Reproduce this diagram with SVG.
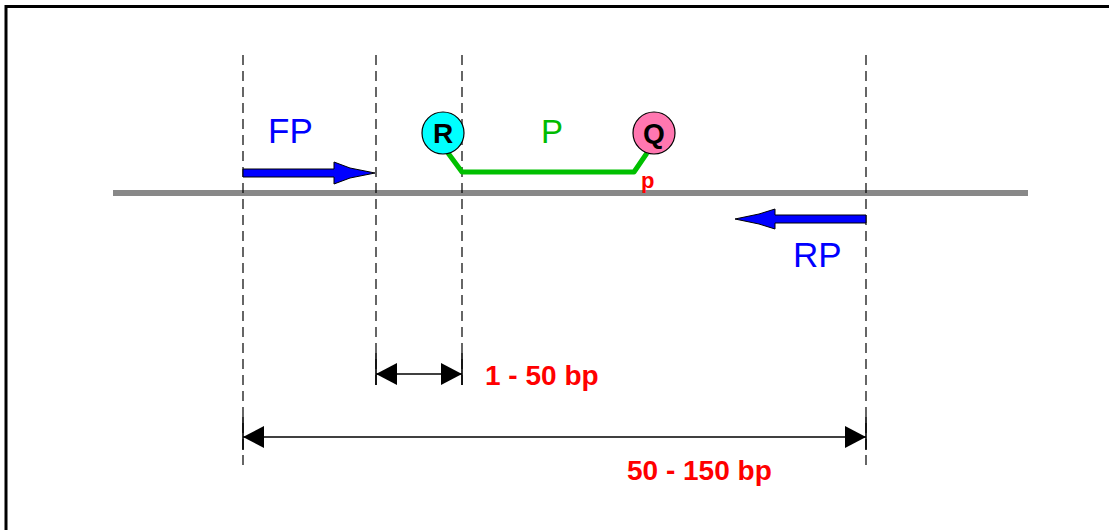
<svg xmlns="http://www.w3.org/2000/svg" width="1109" height="530" viewBox="0 0 1109 530">
<style>
.guide{stroke:#000;stroke-width:1.2;stroke-dasharray:10,6;fill:none}
.dim{stroke:#000;stroke-width:1.6;fill:none}
.tick{stroke:#000;stroke-width:1.6}
.lbl{font-family:"Liberation Sans",Arial,sans-serif}
.red{fill:#FF0000;font-weight:bold;font-size:28px}
.blue{fill:#0000FF;font-size:35px}
.node{font-size:28px;font-weight:bold;fill:#000}
</style>
<defs>
<marker id="ah" markerWidth="21" markerHeight="22" refX="21" refY="11" orient="auto-start-reverse" markerUnits="userSpaceOnUse">
<path d="M0,0 L21,11 L0,22 Z" fill="#000"/>
</marker>
</defs>
<rect x="0" y="0" width="1109" height="530" fill="#fff"/>
<path d="M6,530 V6.5 H1109" fill="none" stroke="#000" stroke-width="3"/>
<g id="dna"><rect x="113" y="190" width="915" height="6" fill="#888"/></g>
<g id="guides">
<line class="guide" x1="243" y1="55" x2="243" y2="466"/>
<line class="guide" x1="376" y1="55" x2="376" y2="385"/>
<line class="guide" x1="462" y1="55" x2="462" y2="385"/>
<line class="guide" x1="866" y1="55" x2="866" y2="466"/>
</g>
<g id="FP">
<path d="M243,169 H334 V162 L350,168 L375,173 L350,178 L334,184 V177 H243 Z" fill="#0000FF" stroke="#000" stroke-width="1"/>
<text class="lbl blue" x="268" y="143">FP</text>
</g>
<g id="RP">
<path d="M866,215 H775 V209 L759,214 L735,219 L759,224 L775,229 V223 H866 Z" fill="#0000FF" stroke="#000" stroke-width="1"/>
<text class="lbl blue" x="793" y="267">RP</text>
</g>
<g id="probe">
<path d="M448,153 L462,172 H634 L647,153" fill="none" stroke="#00C000" stroke-width="5" stroke-linejoin="round"/>
<text class="lbl" x="541" y="143" fill="#00BB00" font-size="33">P</text>
<text class="lbl" x="641" y="188" fill="#FF0000" font-size="22" font-weight="bold">p</text>
</g>
<g id="R">
<circle cx="443" cy="133" r="21" fill="#00FFFF" stroke="#000" stroke-width="1.2"/>
<text class="lbl node" x="443" y="143" text-anchor="middle">R</text>
</g>
<g id="Q">
<circle cx="654" cy="133" r="21" fill="#FF77B0" stroke="#000" stroke-width="1.2"/>
<text class="lbl node" x="654" y="143" text-anchor="middle">Q</text>
</g>
<g id="connectors">
<line class="tick" x1="376" y1="353" x2="376" y2="385"/>
<line class="tick" x1="462" y1="353" x2="462" y2="385"/>
<line class="dim" x1="376" y1="374" x2="462" y2="374" marker-start="url(#ah)" marker-end="url(#ah)"/>
<line class="tick" x1="243" y1="417" x2="243" y2="450"/>
<line class="tick" x1="866" y1="417" x2="866" y2="450"/>
<line class="dim" x1="243" y1="437" x2="866" y2="437" marker-start="url(#ah)" marker-end="url(#ah)"/>
</g>
<g id="labels">
<text class="lbl red" x="485" y="385">1 - 50 bp</text>
<text class="lbl red" x="627" y="480" font-size="29">50 - 150 bp</text>
</g>
</svg>
